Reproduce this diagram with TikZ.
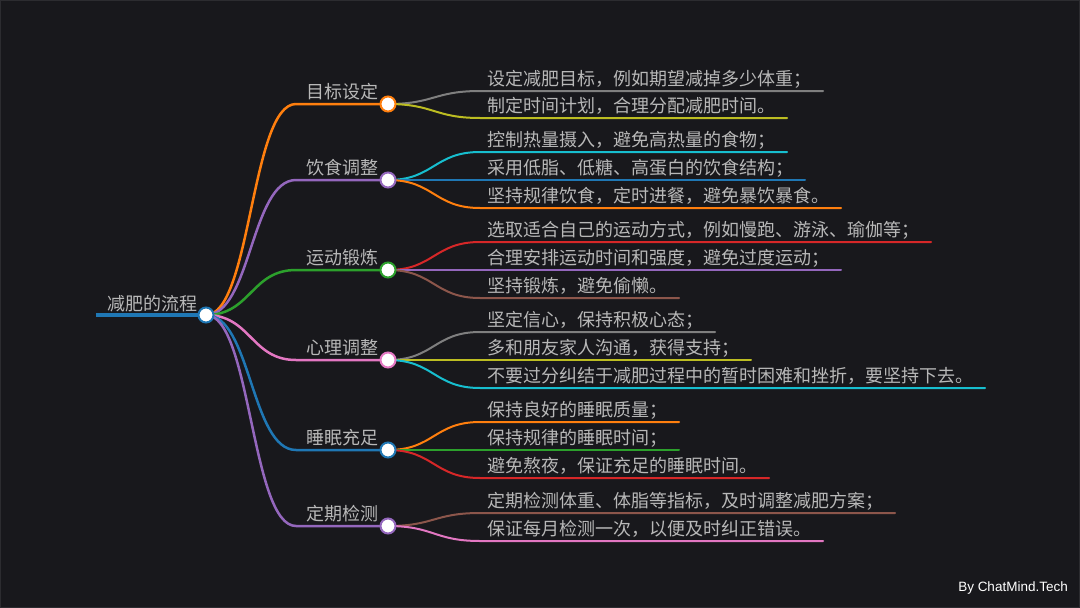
\documentclass[tikz,border=0pt]{standalone}
\usepackage{fontspec}
\usetikzlibrary{calc}
\setmainfont{Liberation Sans}
\newfontfamily\cjk{Noto Sans CJK SC}
\definecolor{bgc}{HTML}{18181C}
\definecolor{edgec}{HTML}{2C2C30}
\definecolor{txt}{HTML}{B8B8B8}
\definecolor{cblue}{HTML}{1F77B4}
\definecolor{corange}{HTML}{FF7F0E}
\definecolor{cgreen}{HTML}{2CA02C}
\definecolor{cred}{HTML}{D62728}
\definecolor{cpurple}{HTML}{9467BD}
\definecolor{cbrown}{HTML}{8C564B}
\definecolor{cpink}{HTML}{E377C2}
\definecolor{cgray}{HTML}{7F7F7F}
\definecolor{colive}{HTML}{BCBD22}
\definecolor{ccyan}{HTML}{17BECF}
\pgfdeclarelayer{links}
\pgfsetlayers{links,main}
\tikzset{
  label text/.style={anchor=west,inner sep=0pt,text=txt,font=\cjk\fontsize{18}{18}\selectfont},
  knot/.style={circle,draw=#1,fill=white,line width=2pt,minimum size=15pt,inner sep=0pt},
}
% curve from the centre of knot a to coordinate b, then straight on to coordinate c
\newcommand{\linkpath}[5]{%
  \begin{pgfonlayer}{links}
  \coordinate (m) at ($(#1.center)!.5!(#2)$);
  \draw[#4,line width=#5,line cap=round] (#1.center) .. controls (m |- #1.center) and (m |- #2) .. (#2) -- (#3);
  \end{pgfonlayer}
}
\newcommand{\leaf}[6]{% id, parent, y, end x, colour, text
  \coordinate (#1s) at (480,#3);
  \coordinate (#1e) at (#4,#3);
  \node[label text] (#1) at (487,#3-12) {#6};
  \linkpath{#2}{#1s}{#1e}{#5}{2pt}
}
\newcommand{\branch}[4]{% id, y, colour, text
  \coordinate (#1s) at (296,#2);
  \node[knot=#3] (#1) at (388,#2) {};
  \node[label text] (#1t) at (306,#2-12) {#4};
  \linkpath{root}{#1s}{#1.center}{#3}{2.5pt}
}
\begin{document}
\begin{tikzpicture}[x=1pt,y=-1pt]
\useasboundingbox (0,0) rectangle (1080,608);
\begin{pgfonlayer}{links}
\fill[bgc] (0,0) rectangle (1080,608);
\draw[edgec,line width=1pt] (0.5,0.5) rectangle (1079.5,607.5);
\end{pgfonlayer}
% root
\coordinate (rootstart) at (96,315);
\node[knot=cblue] (root) at (206,315) {};
\begin{pgfonlayer}{links}
\draw[cblue,line width=4pt] (rootstart) -- (root.center);
\end{pgfonlayer}
\node[label text] (roott) at (107,303.5) {减肥的流程};
% branches
\branch{a}{104}{corange}{目标设定}
\branch{b}{180}{cpurple}{饮食调整}
\branch{c}{270}{cgreen}{运动锻炼}
\branch{d}{360}{cpink}{心理调整}
\branch{e}{450}{cblue}{睡眠充足}
\branch{f}{526}{cpurple}{定期检测}
% leaves
\leaf{a1}{a}{91}{823}{cgray}{设定减肥目标，例如期望减掉多少体重；}
\leaf{a2}{a}{118}{787}{colive}{制定时间计划，合理分配减肥时间。}
\leaf{b1}{b}{152}{787}{ccyan}{控制热量摄入，避免高热量的食物；}
\leaf{b2}{b}{180}{805}{cblue}{采用低脂、低糖、高蛋白的饮食结构；}
\leaf{b3}{b}{208}{841}{corange}{坚持规律饮食，定时进餐，避免暴饮暴食。}
\leaf{c1}{c}{242}{931}{cred}{选取适合自己的运动方式，例如慢跑、游泳、瑜伽等；}
\leaf{c2}{c}{270}{841}{cpurple}{合理安排运动时间和强度，避免过度运动；}
\leaf{c3}{c}{298}{679}{cbrown}{坚持锻炼，避免偷懒。}
\leaf{d1}{d}{332}{715}{cgray}{坚定信心，保持积极心态；}
\leaf{d2}{d}{360}{751}{colive}{多和朋友家人沟通，获得支持；}
\leaf{d3}{d}{388}{985}{ccyan}{不要过分纠结于减肥过程中的暂时困难和挫折，要坚持下去。}
\leaf{e1}{e}{422}{679}{corange}{保持良好的睡眠质量；}
\leaf{e2}{e}{450}{679}{cgreen}{保持规律的睡眠时间；}
\leaf{e3}{e}{478}{769}{cred}{避免熬夜，保证充足的睡眠时间。}
\leaf{f1}{f}{513}{895}{cbrown}{定期检测体重、体脂等指标，及时调整减肥方案；}
\leaf{f2}{f}{541}{823}{cpink}{保证每月检测一次，以便及时纠正错误。}
\node[anchor=base east,inner sep=0pt,text=white,font=\fontsize{13.5}{13.5}\selectfont] (credit) at (1068,591) {By ChatMind.Tech};
\end{tikzpicture}
\end{document}
